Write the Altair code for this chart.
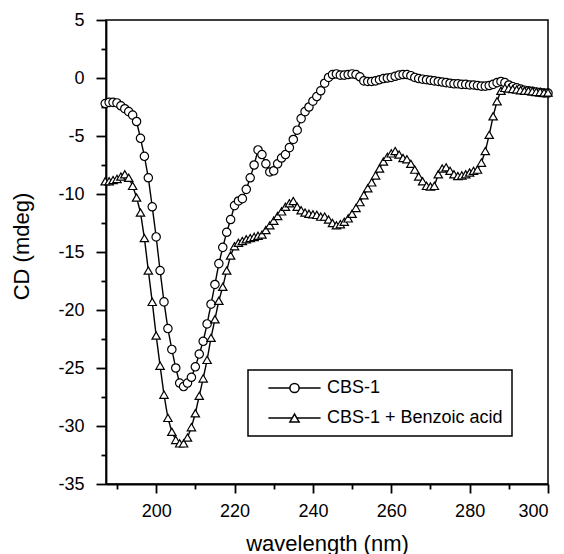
import altair as alt
import pandas as pd

wavelength = list(range(187, 301))

cbs1 = [
    -2.2, -2.1, -2.1, -2.15, -2.4, -2.65, -2.9, -3.2, -3.75, -5.2,      # 187-196
    -6.75, -8.6, -11.1, -13.7, -16.6, -19.3, -21.6, -23.4, -25.0, -26.3,  # 197-206
    -26.6, -26.3, -25.8, -24.9, -23.8, -22.7, -21.2, -19.5, -17.8, -16.0, # 207-216
    -14.6, -13.3, -12.2, -11.0, -10.6, -10.4, -9.6, -8.6, -7.5, -6.2,     # 217-226
    -6.6, -7.4, -8.1, -8.0, -7.4, -6.9, -6.6, -6.0, -5.3, -4.5,           # 227-236
    -3.5, -2.9, -2.5, -2.0, -1.6, -1.1, -0.45, 0.05, 0.3, 0.35,           # 237-246
    0.25, 0.25, 0.3, 0.35, 0.3, 0.1, -0.25, -0.3, -0.3, -0.25,            # 247-256
    -0.15, -0.05, 0.0, 0.05, 0.15, 0.25, 0.3, 0.3, 0.2, 0.05,             # 257-266
    -0.05, -0.1, -0.15, -0.2, -0.25, -0.3, -0.35, -0.4, -0.45, -0.5,      # 267-276
    -0.5, -0.55, -0.55, -0.6, -0.6, -0.65, -0.7, -0.7, -0.65, -0.55,      # 277-286
    -0.4, -0.3, -0.4, -0.6, -0.75, -0.85, -0.95, -1.05, -1.1, -1.15,      # 287-296
    -1.2, -1.25, -1.3, -1.3,                                              # 297-300
]

cbs1_benzoic = [
    -8.9, -8.9, -8.8, -8.7, -8.5, -8.3, -8.6, -9.3, -10.3, -11.6,          # 187-196
    -13.8, -16.6, -19.3, -22.2, -24.8, -27.3, -29.3, -30.5, -31.2, -31.5,  # 197-206
    -31.5, -31.0, -30.1, -28.9, -27.4, -25.9, -24.3, -22.4, -20.8, -19.2,  # 207-216
    -18.0, -16.6, -15.3, -14.5, -14.2, -14.05, -13.9, -13.8, -13.7, -13.6, # 217-226
    -13.5, -13.1, -12.7, -12.3, -11.9, -11.5, -11.1, -10.8, -10.6, -11.1,  # 227-236
    -11.4, -11.6, -11.7, -11.75, -11.8, -11.95, -11.95, -12.2, -12.5, -12.7,  # 237-246
    -12.6, -12.4, -12.1, -11.7, -11.2, -10.7, -10.1, -9.5, -9.0, -8.4,     # 247-256
    -7.8, -7.2, -6.8, -6.5, -6.3, -6.6, -6.9, -7.0, -7.4, -7.9,            # 257-266
    -8.5, -8.9, -9.3, -9.35, -9.3, -8.3, -7.8, -7.7, -8.0, -8.3,           # 267-276
    -8.45, -8.4, -8.3, -8.15, -8.0, -7.9, -7.3, -6.3, -4.9, -3.3,          # 277-286
    -2.0, -1.1, -0.85, -0.9, -0.95, -1.0, -1.05, -1.1, -1.1, -1.15,        # 287-296
    -1.2, -1.2, -1.25, -1.25,                                              # 297-300
]

series_names = ["CBS-1", "CBS-1 + Benzoic acid"]
x_major_ticks = [200, 220, 240, 260, 280, 300]
x_minor_ticks = [190, 210, 230, 250, 270, 290]
y_major_ticks = [-35, -30, -25, -20, -15, -10, -5, 0, 5]
y_minor_ticks = [-32.5, -27.5, -22.5, -17.5, -12.5, -7.5, -2.5, 2.5]

series_col = [series_names[0]] * len(wavelength) + [series_names[1]] * len(wavelength)
df = pd.DataFrame({
    "wavelength": wavelength + wavelength,
    "cd": cbs1 + cbs1_benzoic,
    "series": series_col,
    "sample": series_col,
})

FONT = "Liberation Sans"
x_scale = alt.Scale(domain=[187.2, 300], nice=False, zero=False)
y_scale = alt.Scale(domain=[-35, 5], nice=False, zero=False)

x_major = alt.X(
    "wavelength:Q", scale=x_scale,
    axis=alt.Axis(
        title="wavelength (nm)", orient="bottom", values=x_major_ticks,
        tickSize=9, labelPadding=9, titleBaseline="alphabetic", titleY=66,
    ),
)
y_major = alt.Y(
    "cd:Q", scale=y_scale,
    axis=alt.Axis(
        title="CD (mdeg)", orient="left", values=y_major_ticks,
        labelExpr="'' + datum.value",
        tickSize=10, labelPadding=12, titleX=-73, titleY=226,
    ),
)
x_minor = alt.X(
    "wavelength:Q", scale=x_scale,
    axis=alt.Axis(title=None, orient="bottom", values=x_minor_ticks,
                  tickSize=5, labels=False, domain=False),
)
y_minor = alt.Y(
    "cd:Q", scale=y_scale,
    axis=alt.Axis(title=None, orient="left", values=y_minor_ticks,
                  tickSize=5, labels=False, domain=False),
)
x_plain = alt.X("wavelength:Q", scale=x_scale, axis=None)
y_plain = alt.Y("cd:Q", scale=y_scale, axis=None)

NBSP = "\u00a0"
common_legend = dict(
    title=None,
    orient="none",
    legendX=142,
    legendY=350,
    padding=9,
    rowPadding=12,
    symbolOffset=28.5,
    labelOffset=23.5,
    labelFont=FONT,
    labelFontSize=18,
    labelLimit=400,
    labelExpr="datum.label + '" + NBSP * 3 + "'",
)

base = alt.Chart(df)

lines = base.mark_line(color="black", strokeWidth=1.4).encode(
    x=x_major,
    y=y_major,
    strokeDash=alt.StrokeDash(
        "sample:N",
        scale=alt.Scale(range=[[1, 0], [1, 0]]),
        legend=alt.Legend(
            strokeColor="black",
            symbolType="M-5.8,0H5.8",
            symbolSize=81,
            symbolStrokeWidth=1.4,
            symbolStrokeColor="black",
            labelColor="black",
            zindex=1,
            **common_legend,
        ),
    ),
)

points = base.mark_point(
    filled=True, fill="white", stroke="black", strokeWidth=1.2, size=70, opacity=1
).encode(
    x=x_plain,
    y=y_plain,
    shape=alt.Shape(
        "series:N",
        scale=alt.Scale(domain=series_names, range=["circle", "triangle-up"]),
        legend=alt.Legend(
            symbolSize=85,
            labelColor="transparent",
            zindex=2,
            **common_legend,
        ),
    ),
)

minor_layer = base.transform_filter("false").mark_point(opacity=0).encode(
    x=x_minor, y=y_minor
)

chart = (
    alt.layer(lines, points, minor_layer)
    .resolve_axis(x="independent", y="independent")
    .properties(
        width=442,
        height=464,
        autosize=alt.AutoSizeParams(type="none"),
        padding={"left": 106, "top": 20, "right": 16, "bottom": 70},
    )
    .configure_view(stroke="black", strokeWidth=1.5)
    .configure_axis(
        domainColor="black",
        domainWidth=1.8,
        tickColor="black",
        tickWidth=1.8,
        labelFont=FONT,
        labelFontSize=18,
        labelColor="black",
        titleFont=FONT,
        titleFontSize=22,
        titleFontWeight="normal",
        titleColor="black",
        grid=False,
    )
    .configure_legend(strokeWidth=1.5)
)

chart.save("out.html", embed_options={"renderer": "svg", "actions": False})
